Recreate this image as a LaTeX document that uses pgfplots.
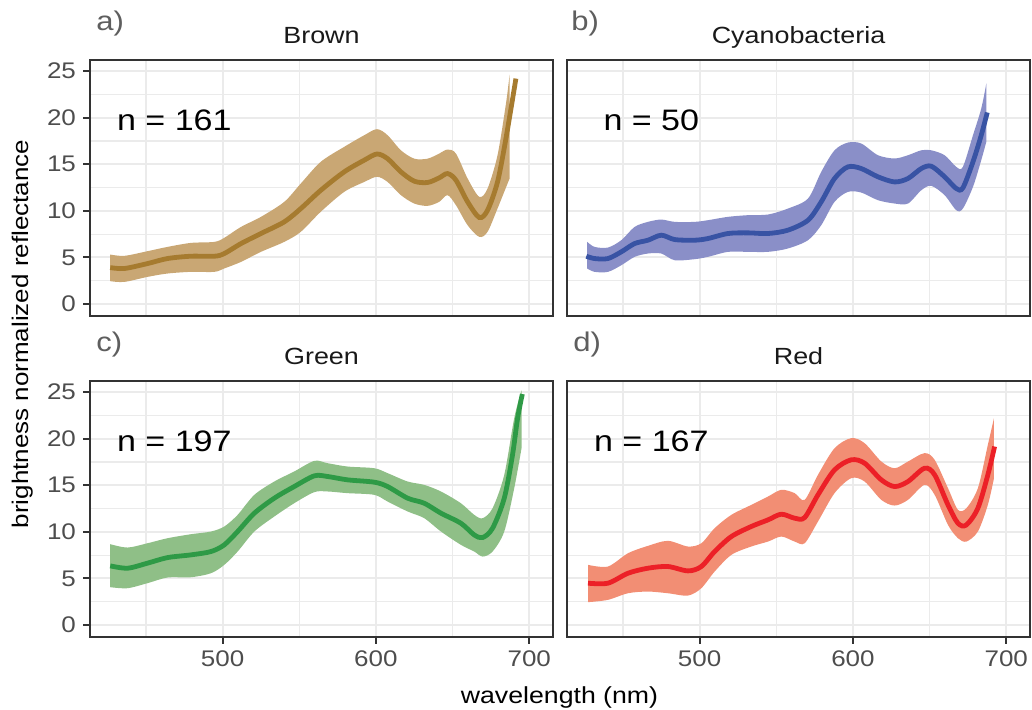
\documentclass[border=0pt]{standalone}
\usepackage{fontspec}
\setmainfont{Liberation Sans}[FakeStretch=1.15]
\usepackage{pgfplots}
\usepackage{pgfplotstable}
\usepgfplotslibrary{fillbetween}
\pgfplotsset{compat=1.18}

\definecolor{brownL}{HTML}{A67B2F}
\definecolor{brownR}{HTML}{C9A774}
\definecolor{blueL}{HTML}{3853A4}
\definecolor{blueR}{HTML}{8A8FC8}
\definecolor{greenL}{HTML}{2E9A46}
\definecolor{greenR}{HTML}{8FBF87}
\definecolor{redL}{HTML}{EC2027}
\definecolor{redR}{HTML}{F28E74}
\definecolor{gridc}{HTML}{EBEBEB}
\definecolor{framec}{HTML}{333333}
\definecolor{ticklab}{HTML}{4D4D4D}
\definecolor{panlab}{HTML}{5E5E5E}

\newcommand\fs[1]{\fontsize{#1}{#1}\selectfont}

% ---------------- data ----------------
\pgfplotstableread{
wl v
426.7 3.9
435.9 3.8
451 4.33
464 4.87
479.3 5.12
494.6 5.12
501 5.4
512 6.48
525 7.56
540.2 8.81
551 10.24
564 12.2
579.3 14.18
592.4 15.44
600.7 16.1
607.6 15.6
616.3 14.18
625 13.18
633.7 13.04
641.3 13.54
646.7 14.0
652.2 13.29
659.8 10.96
667.4 9.28
672.8 10.06
679.3 13.1
684.8 17.77
691.3 24.2
}\lineA
\pgfplotstableread{
wl lo hi
426.7 2.44 5.3
435.9 2.36 5.16
451 2.9 5.66
464 3.26 6.12
479.3 3.44 6.55
494.6 3.44 6.66
501 3.8 7.09
512 4.51 8.27
525 5.59 9.35
540.2 6.66 10.96
551 7.74 12.93
564 9.89 15.26
579.3 12.03 16.87
592.4 13.1 18.12
600.7 13.65 18.77
607.6 13.1 18.12
616.3 11.68 16.5
625 10.78 15.6
633.7 10.53 15.6
641.3 10.96 16.15
646.7 11.68 16.58
652.2 10.6 16.15
659.8 8.45 13.47
667.4 7.2 11.5
672.8 7.74 12.39
679.3 10.24 15.97
684.8 12.5 21.5
687.2 13.47 24.64
}\ribA
\pgfplotstableread{
wl v
426.1 5.12
431.5 4.87
440.2 4.87
448.9 5.59
457.6 6.48
466.3 6.84
475 7.38
483.7 6.91
496.7 6.84
505.4 7.02
518.5 7.56
531.5 7.63
544.6 7.56
557.6 7.92
570.7 8.99
579.3 10.96
588 13.47
596.7 14.72
605.4 14.54
616.3 13.65
627.2 13.1
635.9 13.47
644.6 14.54
651.1 14.79
659.8 13.65
667.4 12.39
671.7 12.46
678.3 15.26
683.7 18.12
687.6 20.56
}\lineB
\pgfplotstableread{
wl lo hi
426.7 3.8 6.66
431.5 3.44 6.12
440.2 3.44 6.05
448.9 4.15 6.84
457.6 5.05 8.27
466.3 5.41 8.81
475 5.41 9.06
483.7 4.69 8.81
496.7 4.8 8.81
505.4 5.05 8.99
518.5 5.59 9.35
531.5 5.59 9.53
544.6 5.59 9.6
557.6 5.95 10.24
570.7 6.84 11.32
579.3 8.45 14.18
588 10.96 16.5
596.7 12.03 17.33
605.4 11.96 17.23
616.3 11.14 15.97
627.2 10.78 15.62
635.9 10.78 15.97
644.6 12.21 16.5
651.1 12.68 16.5
659.8 11.68 15.97
667.4 10.06 14.72
671.7 10.24 14.72
678.3 12.57 18.12
683.7 15.44 20.99
687 17.41 23.68
}\ribB
\pgfplotstableread{
wl v
426.7 6.34
438 6.09
451 6.63
464.1 7.23
479.3 7.52
492.4 7.88
501.1 8.6
509.8 10.03
520.7 12.0
533.7 13.61
546.7 14.86
559.8 16.01
568.5 15.94
581.5 15.58
598.9 15.33
607.6 14.86
620.7 13.61
631.5 13.07
642.4 12.0
655.4 10.92
664.1 9.67
669.6 9.38
676.1 10.39
683.7 13.61
689.1 18.27
692.4 22.2
695.5 24.8
}\lineC
\pgfplotstableread{
wl lo hi
426.7 4.05 8.67
438 3.94 8.31
451 4.48 8.77
464.1 5.09 9.31
479.3 5.12 9.74
492.4 5.55 10.03
501.1 6.45 10.57
509.8 7.88 11.82
520.7 10.03 13.97
533.7 11.64 15.4
546.7 13.07 16.48
559.8 14.26 17.62
568.5 14.33 17.37
581.5 14.15 17.01
598.9 13.97 16.83
607.6 13.25 16.3
620.7 12.18 15.4
631.5 11.46 15.04
642.4 10.03 14.33
655.4 8.6 13.07
664.1 7.88 11.82
669.6 7.34 11.46
676.1 7.88 12.54
683.7 10.03 16.12
690.2 14.68 22.21
695 19 25.2
}\ribC
\pgfplotstableread{
wl v
427.2 4.48
440.2 4.48
453.3 5.55
466.3 6.09
479.3 6.27
492.4 5.8
501.1 6.27
509.8 7.88
520.7 9.49
533.7 10.57
544.6 11.28
553.3 11.89
562 11.46
568.5 11.53
577.2 13.97
588 16.65
598.9 17.73
607.6 17.37
618.5 15.58
627.2 14.86
635.9 15.4
646.7 16.83
653.3 16.12
662 12.89
668.5 10.92
674 10.74
681.5 12.54
688 16.12
692.4 19.16
}\lineD
\pgfplotstableread{
wl lo hi
427.2 2.44 6.45
440.2 2.69 6.27
453.3 3.4 7.7
466.3 3.58 8.49
479.3 3.4 9.03
492.4 3.15 8.42
501.1 3.94 8.77
509.8 5.73 10.39
520.7 7.52 11.82
533.7 8.42 12.89
544.6 8.95 13.79
553.3 9.49 14.51
562 8.95 14.15
568.5 8.77 13.43
577.2 11.1 16.12
588 14.15 18.98
598.9 15.76 20.06
607.6 15.4 19.52
618.5 13.43 17.55
627.2 12.82 16.83
635.9 13.43 17.55
646.7 15.04 18.45
653.3 13.97 17.73
662 10.74 14.69
668.5 9.31 12.36
674 8.95 12.54
681.5 10.03 14.69
688 12.89 19.34
692 15.76 22.21
}\ribD

\pgfplotsset{
  panel/.style={
    scale only axis, width=231.5pt, height=128pt,
    anchor=south west,
    xmin=413.5, xmax=715.5, ymin=-1.3, ymax=26.2,
    xtick={500,600,700}, ytick={0,5,10,15,20,25},
    minor xtick={450,550,650}, minor ytick={2.5,7.5,12.5,17.5,22.5},
    grid=both,
    major grid style={draw=gridc, line width=1.1pt},
    minor grid style={draw=gridc, line width=0.55pt},
    axis line style={draw=framec, line width=1pt},
    tick align=outside, tick pos=left,
    major tick length=3.5pt, minor tick length=0pt,
    xtick style={draw=framec, line width=1pt},
    ytick style={draw=framec, line width=1pt},
    tick label style={font=\fs{11.3}, text=ticklab},
    /pgf/number format/assume math mode=true,
  },
  rib/.style={draw=none, smooth, tension=0.5},
  ln/.style={line width=2.4pt, smooth, tension=0.5},
}

\begin{document}
\begin{tikzpicture}

% a) Brown
\begin{axis}[panel, at={(45pt,197pt)}, xticklabels={}, xtick style={draw=none}]
\addplot[rib, name path=aU] table[x=wl,y=hi]{\ribA};
\addplot[rib, name path=aL] table[x=wl,y=lo]{\ribA};
\addplot[fill=brownR, draw=none] fill between[of=aU and aL];
\addplot[ln, brownL] table[x=wl,y=v]{\lineA};
\node[anchor=base, font=\fs{14.8}, inner sep=0pt] at (axis cs:468.5,18.63) {n = 161};
\end{axis}

% b) Cyanobacteria
\begin{axis}[panel, at={(283.5pt,197pt)}, xticklabels={}, yticklabels={}, xtick style={draw=none}, ytick style={draw=none}]
\addplot[rib, name path=bU] table[x=wl,y=hi]{\ribB};
\addplot[rib, name path=bL] table[x=wl,y=lo]{\ribB};
\addplot[fill=blueR, draw=none] fill between[of=bU and bL];
\addplot[ln, blueL] table[x=wl,y=v]{\lineB};
\node[anchor=base, font=\fs{14.8}, inner sep=0pt] at (axis cs:468.5,18.63) {n = 50};
\end{axis}

% c) Green
\begin{axis}[panel, at={(45pt,36.5pt)}]
\addplot[rib, name path=cU] table[x=wl,y=hi]{\ribC};
\addplot[rib, name path=cL] table[x=wl,y=lo]{\ribC};
\addplot[fill=greenR, draw=none] fill between[of=cU and cL];
\addplot[ln, greenL] table[x=wl,y=v]{\lineC};
\node[anchor=base, font=\fs{14.8}, inner sep=0pt] at (axis cs:468.5,18.63) {n = 197};
\end{axis}

% d) Red
\begin{axis}[panel, at={(283.5pt,36.5pt)}, yticklabels={}, ytick style={draw=none}]
\addplot[rib, name path=dU] table[x=wl,y=hi]{\ribD};
\addplot[rib, name path=dL] table[x=wl,y=lo]{\ribD};
\addplot[fill=redR, draw=none] fill between[of=dU and dL];
\addplot[ln, redL] table[x=wl,y=v]{\lineD};
\node[anchor=base, font=\fs{14.8}, inner sep=0pt] at (axis cs:468.5,18.63) {n = 167};
\end{axis}

% panel letters
\node[anchor=base west, inner sep=0pt, font=\fs{13.5}, text=panlab] at (48pt,339.5pt) {a)};
\node[anchor=base west, inner sep=0pt, font=\fs{13.5}, text=panlab] at (285.5pt,339.5pt) {b)};
\node[anchor=base west, inner sep=0pt, font=\fs{13.5}, text=panlab] at (48pt,179pt) {c)};
\node[anchor=base west, inner sep=0pt, font=\fs{13.5}, text=panlab] at (286.5pt,179pt) {d)};

% strip titles
\node[anchor=base, inner sep=0pt, font=\fs{11.7}, text=black!90] at (160.75pt,333pt) {Brown};
\node[anchor=base, inner sep=0pt, font=\fs{11.7}, text=black!90] at (399.25pt,333pt) {Cyanobacteria};
\node[anchor=base, inner sep=0pt, font=\fs{11.7}, text=black!90] at (160.75pt,172.5pt) {Green};
\node[anchor=base, inner sep=0pt, font=\fs{11.7}, text=black!90] at (399.25pt,172.5pt) {Red};

% axis titles
\node[anchor=base, inner sep=0pt, font=\fs{11.6}] at (279.75pt,3pt) {wavelength (nm)};
\node[anchor=base, rotate=90, inner sep=0pt, font=\fs{11.3}] at (14pt,188pt) {brightness normalized reflectance};

\pgfresetboundingbox
\path[use as bounding box] (0,0) rectangle (516pt,355pt);
\end{tikzpicture}
\end{document}
